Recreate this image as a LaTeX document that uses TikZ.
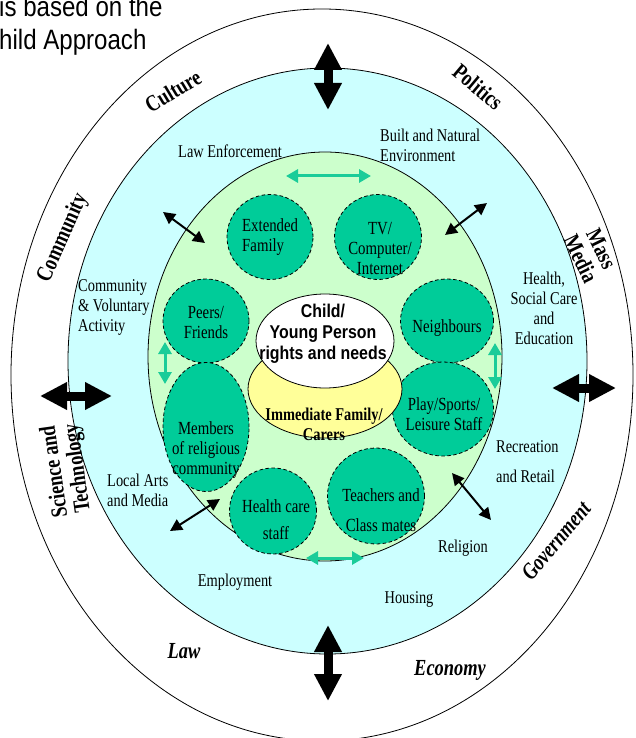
\documentclass[tikz,border=0pt]{standalone}
\usepackage{fontspec}
\setmainfont{Liberation Serif}[FakeStretch=0.8]
\newfontfamily\arialc{Liberation Sans}[FakeStretch=0.86]
\usetikzlibrary{shapes.geometric,arrows.meta}
\definecolor{ringblue}{HTML}{CCFFFF}
\definecolor{ringgreen}{HTML}{CCFFCC}
\definecolor{circteal}{HTML}{00CC99}
\definecolor{arrteal}{HTML}{1ACC99}
\definecolor{famyellow}{HTML}{FFFF99}
\tikzset{
  ringshape/.style={ellipse, draw=black, line width=0.8pt, inner sep=0pt},
  circ/.style={ellipse, draw=black, dash pattern=on 3.5pt off 2.5pt, line width=0.8pt, fill=circteal, inner sep=0pt},
  lbl/.style={font=\fontsize{18}{20}\selectfont, align=center, inner sep=0pt},
  lbll/.style={font=\fontsize{18}{20}\selectfont, align=left, inner sep=0pt, anchor=west},
  ctxt/.style={font=\fontsize{18.5}{20}\selectfont, align=center, inner sep=0pt},
  ringlbl/.style={font=\fontsize{23}{23}\selectfont\bfseries, align=center, inner sep=0pt},
  ringit/.style={font=\fontsize{23}{23}\selectfont\bfseries\itshape, align=center, inner sep=0pt},
  bigarrow/.style={draw=black, line width=9pt, >={Triangle[length=27pt,width=26pt]}, <->},
  midarrow/.style={draw=black, line width=2pt, >={Triangle[length=12pt,width=12pt]}, <->},
  tealarrow/.style={draw=arrteal, line width=3pt, >={Triangle[length=12pt,width=13pt]}, <->},
}
\begin{document}
\begin{tikzpicture}[x=1pt,y=-1pt]
\clip (0,0) rectangle (635,738);
\fill[white] (0,0) rectangle (635,738);

% title fragment
\node[font=\arialc\fontsize{28}{33}\selectfont, anchor=base west, inner sep=0pt] (title1) at (-1,17) {is based on the};
\node[font=\arialc\fontsize{28}{33}\selectfont, anchor=base west, inner sep=0pt] (title2) at (-1,50) {hild Approach};

% rings
\node[ringshape, fill=white, minimum width=622pt, minimum height=732pt] (outer) at (322,375) {};
\node[ringshape, fill=ringblue, minimum width=519pt, minimum height=586pt] (blue) at (327.5,361) {};
\node[ringshape, fill=ringgreen, minimum width=354pt, minimum height=409pt] (green) at (325,356.5) {};

% circles
\node[circ, minimum width=86pt, minimum height=85pt] (extfam) at (270,237) {};
\node[circ, minimum width=87pt, minimum height=85pt] (tvc) at (378,237) {};
\node[circ, minimum width=86pt, minimum height=84pt] (peers) at (206,321) {};
\node[circ, minimum width=93pt, minimum height=84pt] (neigh) at (447,321) {};
\node[circ, minimum width=86pt, minimum height=129pt] (relig) at (206,427) {};
\node[circ, minimum width=101pt, minimum height=94pt] (play) at (443,409) {};
\node[circ, minimum width=87pt, minimum height=86pt] (health) at (273,511) {};
\node[circ, minimum width=97pt, minimum height=96pt] (teach) at (376,496) {};

% centre
\node[ringshape, fill=famyellow, minimum width=154pt, minimum height=98pt] (family) at (325,389) {};
\node[ringshape, fill=white, minimum width=138pt, minimum height=94pt] (child) at (325,341) {};

% circle texts
\node[ctxt, align=left, anchor=west] (textfam) at (242,237) {Extended\\Family};
\node[ctxt] (ttvc) at (380,248) {TV/\\Computer/\\Internet};
\node[ctxt] (tpeers) at (206,322) {Peers/\\Friends};
\node[ctxt] (tneigh) at (447,328) {Neighbours};
\node[ctxt] (trelig) at (206,450) {Members\\of religious\\community};
\node[ctxt] (tplay) at (444,414) {Play/Sports/\\Leisure Staff};
\node[ctxt] (thealth) at (276,520) {Health care\\[7pt]staff};
\node[ctxt] (tteach) at (381,510) {Teachers and\\[10pt]Class mates};

\node[font=\arialc\bfseries\fontsize{18.5}{21}\selectfont, align=center, inner sep=0pt] (tchild) at (323,334) {Child/\\Young Person\\rights and needs};
\node[font=\fontsize{18}{20}\selectfont\bfseries, align=center, inner sep=0pt] (tfamily) at (324,424) {Immediate Family/\\Carers};

% blue zone texts
\node[lbl] (tlaw) at (230,151) {Law Enforcement};
\node[lbll] (tbuilt) at (380,145) {Built and Natural\\Environment};
\node[lbll] (tcomm) at (78,307) {Community\\\& Voluntary\\Activity};
\node[lbl] (thsc) at (544,308) {Health,\\Social Care\\and\\Education};
\node[lbll] (tarts) at (107,490) {Local Arts\\and Media};
\node[lbll] (trec) at (496,462) {Recreation\\[10pt]and Retail};
\node[lbl] (trel) at (463,548) {Religion};
\node[lbl] (temp) at (235,582) {Employment};
\node[lbl] (thous) at (409,599) {Housing};

% outer ring labels
\node[ringlbl, rotate=31] (rcult) at (173,91) {Culture};
\node[ringlbl, rotate=-40] (rpol) at (478,87) {Politics};
\node[ringlbl, rotate=66] (rcomm) at (63,238) {Community};
\node[ringlbl, rotate=-64] (rmass) at (591,254) {Mass\\Media};
\node[ringlbl, rotate=98] (rsci) at (67,470) {Science and\\Technology};
\node[ringit, rotate=50] (rgov) at (556,541) {Government};
\node[ringit, anchor=base] (rlaw) at (184,658) {Law};
\node[ringit, anchor=base] (reco) at (450,675) {Economy};

% big arrows
\coordinate (bt1) at (328,43); \coordinate (bt2) at (328,110);
\coordinate (bb1) at (328,625); \coordinate (bb2) at (328,701);
\coordinate (bl1) at (40,396); \coordinate (bl2) at (112,396);
\coordinate (br1) at (552,388); \coordinate (br2) at (616,388);
\draw[bigarrow] (bt1) -- (bt2);
\draw[bigarrow] (bb1) -- (bb2);
\draw[bigarrow] (bl1) -- (bl2);
\draw[bigarrow] (br1) -- (br2);

% medium arrows
\coordinate (m1a) at (163,212); \coordinate (m1b) at (205,243);
\coordinate (m2a) at (445,235); \coordinate (m2b) at (487,203);
\coordinate (m3a) at (170,531); \coordinate (m3b) at (220,499);
\coordinate (m4a) at (452,473); \coordinate (m4b) at (491,520);
\draw[midarrow] (m1a) -- (m1b);
\draw[midarrow] (m2a) -- (m2b);
\draw[midarrow] (m3a) -- (m3b);
\draw[midarrow] (m4a) -- (m4b);

% teal arrows
\coordinate (t1a) at (286,176); \coordinate (t1b) at (371,176);
\coordinate (t2a) at (165,342); \coordinate (t2b) at (165,384);
\coordinate (t3a) at (495,343); \coordinate (t3b) at (495,389);
\coordinate (t4a) at (306,558); \coordinate (t4b) at (364,558);
\draw[tealarrow] (t1a) -- (t1b);
\draw[tealarrow] (t2a) -- (t2b);
\draw[tealarrow] (t3a) -- (t3b);
\draw[tealarrow] (t4a) -- (t4b);
\end{tikzpicture}
\end{document}
